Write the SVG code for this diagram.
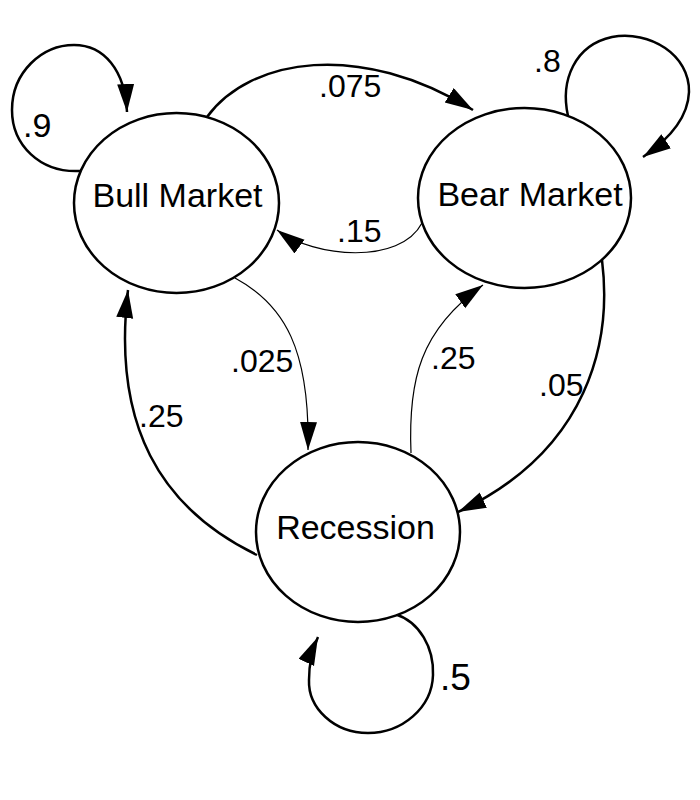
<svg xmlns="http://www.w3.org/2000/svg" width="700" height="800" viewBox="0 0 700 800">
<style>
.node{fill:#fff;stroke:#000;stroke-width:2.5}
.ntext{font-family:"Liberation Sans",Arial,sans-serif;font-size:34px;fill:#000;text-anchor:middle}
.lbl{font-family:"Liberation Sans",Arial,sans-serif;font-size:32px;fill:#000}
.edge{fill:none;stroke:#000;stroke-width:2.5;marker-end:url(#ah)}
.thin{stroke-width:1.2}
</style>
<defs>
<marker id="ah" markerUnits="userSpaceOnUse" markerWidth="30" markerHeight="18" refX="28" refY="8.5" orient="auto">
<path d="M0,0 L28,8.5 L0,17 z" fill="#000"/>
</marker>
</defs>
<rect width="700" height="800" fill="#fff"/>
<g id="connectors">
<path class="edge" d="M80,171 C40,173 12,145 12,110 C12,72 42,45 74,45 C104,45 125,70 127,112"/>
<path class="edge" d="M568,116 C560,80 575,45 612,37 C650,30 690,55 689,92 C688,118 668,140 643,157"/>
<path class="edge" d="M207,117 C250,58 360,40 473,110"/>
<path class="edge thin" d="M422,223 C400,265 315,258 277,230"/>
<path class="edge thin" d="M235,278 C285,305 310,350 308,450"/>
<path class="edge" d="M257,555 C160,508 112,425 128,290"/>
<path class="edge thin" d="M411,453 C408,380 420,330 483,285"/>
<path class="edge" d="M602,260 C612,340 590,450 458,512"/>
<path class="edge" d="M395,614 C420,622 434,648 433,675 C432,708 402,733 368,733 C334,733 308,708 309,680 C309,665 312,650 318,637"/>
</g>
<g id="bull">
<ellipse class="node" cx="176.5" cy="203" rx="102.5" ry="90"/>
<text class="ntext" x="177.5" y="207">Bull Market</text>
</g>
<g id="bear">
<ellipse class="node" cx="524.5" cy="198" rx="106.5" ry="90"/>
<text class="ntext" x="530" y="206">Bear Market</text>
</g>
<g id="recession">
<ellipse class="node" cx="358" cy="532" rx="102" ry="90"/>
<text class="ntext" x="355.5" y="539">Recession</text>
</g>
<g id="labels">
<text class="lbl" x="23" y="137" style="font-size:34px">.9</text>
<text class="lbl" x="319" y="97">.075</text>
<text class="lbl" x="337" y="242">.15</text>
<text class="lbl" x="534" y="72">.8</text>
<text class="lbl" x="231" y="372">.025</text>
<text class="lbl" x="139" y="427">.25</text>
<text class="lbl" x="431" y="369">.25</text>
<text class="lbl" x="539" y="396">.05</text>
<text class="lbl" x="440" y="690" style="font-size:37px">.5</text>
</g>
</svg>
